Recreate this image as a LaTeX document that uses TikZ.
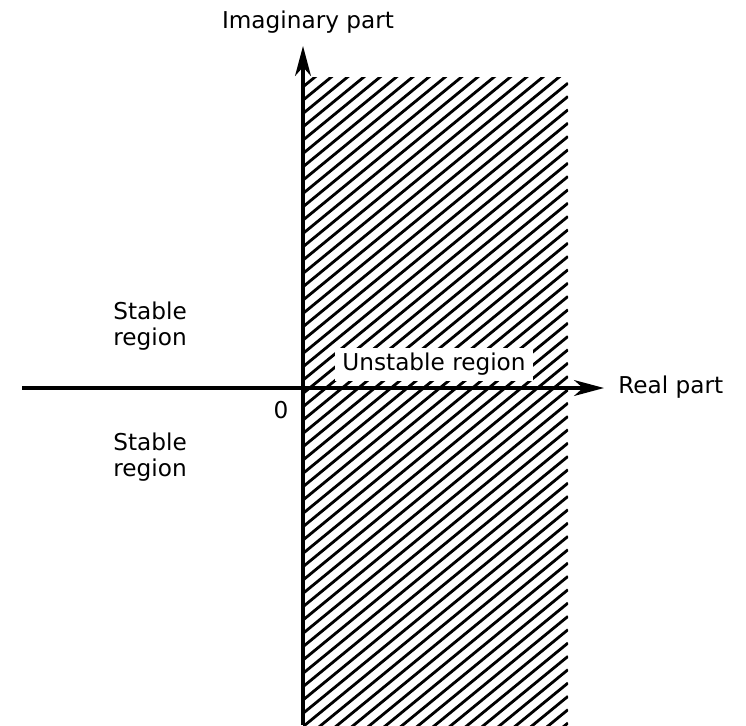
\documentclass[tikz,border=0pt]{standalone}
\usepackage{fontspec}
\setmainfont{DejaVu Sans}
\usetikzlibrary{arrows.meta}

\begin{document}
\begin{tikzpicture}[x=0.02cm, y=-0.02cm, >={Stealth[length=17pt, width=9pt, inset=5pt]}]
    \tikzset{
        axis/.style={line width=2pt},
        hatchline/.style={line width=1.6pt},
        lbl/.style={font=\fontsize{13.2}{14.7}\selectfont, inner sep=0pt}
    }
    \useasboundingbox (0,0) rectangle (746,725);

    % corners of the unstable half-plane
    \coordinate (O) at (303,388);
    \coordinate (xl) at (22,388);
    \coordinate (xr) at (604,388);
    \coordinate (yb) at (303,725);
    \coordinate (yt) at (303,46);

    \begin{scope}
        \clip (303,77) rectangle (568,725);
        \foreach \k in {-22,...,44} {
            \draw[hatchline] (303,646.7-13.33*\k) -- ++(265,-217);
        }
    \end{scope}

    \node[lbl, fill=white, inner xsep=4pt, inner ysep=3pt] (unst) at (434,364) {Unstable region};

    \draw[axis, ->] (xl) -- (xr);
    \draw[axis, ->] (yb) -- (yt);

    \node[lbl, anchor=west] (re) at (618,387) {Real part};
    \node[lbl, anchor=base] (im) at (308,28) {Imaginary part};
    \node[lbl] (zero) at (281,410) {0};

    \node[lbl, align=left, anchor=north west] (stab1) at (113,302) {Stable\\region};
    \node[lbl, align=left, anchor=north west] (stab2) at (113,433) {Stable\\region};
\end{tikzpicture}
\end{document}
